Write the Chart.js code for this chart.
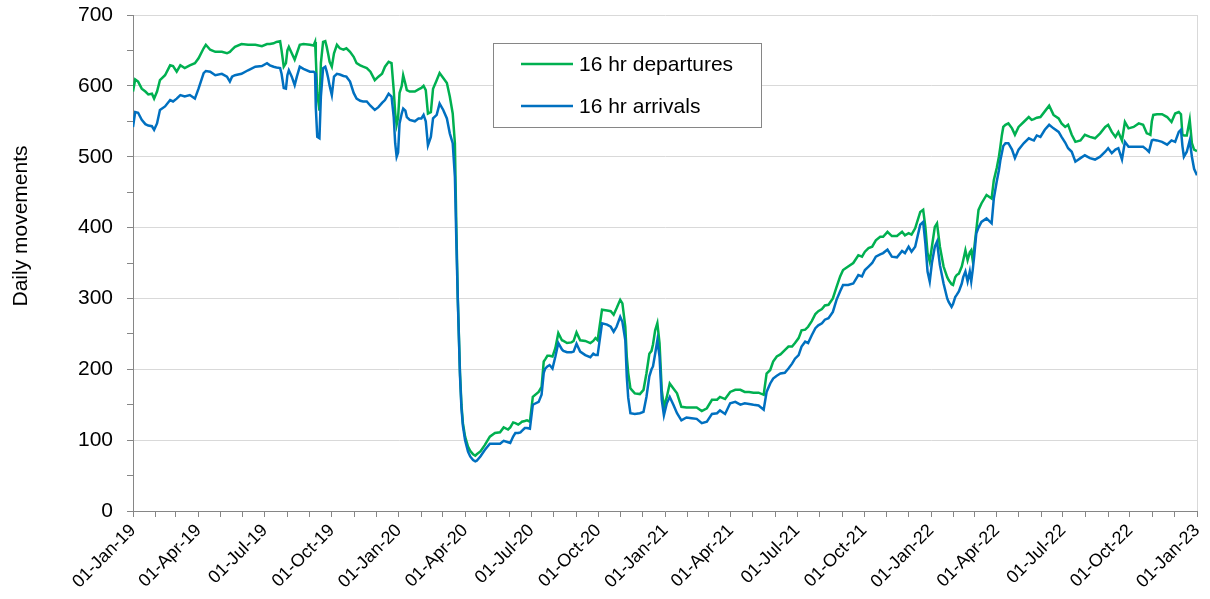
<!DOCTYPE html>
<html>
<head>
<meta charset="utf-8">
<script src="https://cdn.jsdelivr.net/npm/chart.js@4"></script>
<style>
  html, body { margin: 0; padding: 0; background: #fff; }
  #wrap { width: 1210px; height: 599px; }
</style>
</head>
<body>
<div id="wrap"><canvas id="chart" width="1210" height="599"></canvas></div>
<script>
// Mouvements quotidiens (moyenne 16 h), jours comptés depuis le 01-Jan-19
const startYear = 2019;

const days = [
  0, 3, 7, 12, 17, 21, 26, 29, 33, 37, 44, 51, 55, 60, 65, 71, 78, 85, 90, 97,
  100, 106, 113, 122, 129, 133, 136, 140, 149, 158, 168, 177, 184, 188, 193, 197, 202, 204, 207, 210,
  212, 214, 218, 222, 225, 229, 234, 243, 248, 250, 251, 253, 256, 258, 261, 264, 266, 268, 270, 273,
  276, 280, 284, 289, 293, 298, 303, 307, 312, 316, 321, 326, 332, 337, 342, 346, 351, 355, 358, 360,
  362, 364, 366, 369, 371, 374, 376, 380, 387, 392, 396, 399, 402, 405, 409, 412, 417, 421, 426, 431,
  435, 439, 442, 444, 446, 449, 451, 453, 456, 460, 463, 467, 470, 472, 477, 483, 490, 497, 504, 509,
  515, 518, 522, 525, 529, 532, 534, 538, 541, 545, 549, 557, 561, 564, 566, 569, 572, 576, 580, 584,
  589, 591, 596, 602, 605, 609, 614, 621, 628, 632, 635, 638, 644, 651, 656, 660, 664, 669, 672, 676,
  678, 680, 683, 689, 696, 701, 705, 709, 712, 714, 717, 720, 723, 726, 729, 733, 737, 742, 747, 753,
  760, 767, 774, 781, 788, 795, 802, 806, 813, 820, 827, 834, 840, 846, 852, 859, 866, 870, 875, 879,
  884, 889, 895, 900, 905, 909, 914, 918, 923, 927, 932, 937, 941, 946, 950, 955, 961, 966, 971, 975,
  982, 989, 996, 1001, 1005, 1010, 1015, 1020, 1026, 1030, 1036, 1042, 1049, 1056, 1060, 1065, 1069, 1074, 1081, 1085,
  1088, 1091, 1094, 1097, 1101, 1104, 1108, 1113, 1118, 1120, 1124, 1126, 1129, 1131, 1134, 1138, 1140, 1143, 1146, 1149,
  1151, 1153, 1155, 1158, 1161, 1165, 1172, 1179, 1182, 1186, 1189, 1191, 1193, 1195, 1198, 1202, 1207, 1211, 1216, 1223,
  1230, 1234, 1237, 1241, 1246, 1252, 1258, 1264, 1271, 1275, 1280, 1284, 1289, 1294, 1301, 1307, 1314, 1321, 1328, 1335,
  1339, 1344, 1349, 1353, 1358, 1362, 1367, 1374, 1381, 1387, 1392, 1395, 1397, 1399, 1401, 1406, 1413, 1420, 1426, 1431,
  1436, 1439, 1441, 1443, 1447, 1451, 1454, 1457, 1461
];

const departures = [
  592, 609, 606, 596, 592, 588, 589, 582, 592, 608, 615, 629, 628, 620, 629, 625, 629, 632, 639, 653,
  658, 651, 648, 648, 646, 648, 651, 655, 659, 658, 658, 656, 659, 659, 660, 662, 663, 650, 627, 632,
  650, 655, 646, 637, 646, 658, 659, 658, 657, 662, 640, 590, 565, 632, 662, 663, 655, 645, 634, 627,
  646, 658, 653, 651, 653, 648, 641, 632, 629, 627, 625, 620, 608, 613, 617, 627, 634, 632, 594, 562,
  545, 555, 590, 600, 615, 603, 594, 592, 592, 595, 597, 600, 594, 561, 563, 596, 608, 618, 611, 604,
  585, 561, 519, 400, 300, 195, 150, 124, 105, 91, 85, 80, 78, 80, 84, 93, 105, 110, 111, 118,
  115, 118, 125, 124, 122, 124, 126, 127, 128, 126, 161, 168, 175, 211, 214, 219, 219, 218, 230, 251,
  241, 240, 237, 238, 240, 252, 241, 240, 237, 240, 244, 241, 284, 283, 282, 277, 286, 298, 293, 260,
  218, 195, 173, 166, 165, 171, 194, 222, 226, 235, 255, 265, 237, 171, 147, 161, 180, 173, 166, 147,
  146, 146, 146, 141, 145, 157, 157, 161, 158, 168, 171, 171, 168, 168, 167, 167, 164, 194, 199, 211,
  218, 221, 227, 232, 232, 237, 244, 255, 256, 260, 268, 278, 282, 285, 290, 291, 300, 316, 331, 340,
  345, 350, 361, 359, 366, 371, 373, 382, 387, 387, 394, 388, 388, 394, 389, 392, 390, 399, 422, 425,
  401, 364, 352, 373, 401, 406, 373, 345, 330, 326, 320, 319, 330, 333, 335, 345, 354, 368, 354, 365,
  368, 354, 370, 397, 425, 434, 446, 441, 467, 484, 500, 514, 530, 542, 545, 547, 540, 531, 542, 549,
  556, 552, 553, 555, 556, 564, 572, 559, 554, 547, 542, 545, 531, 521, 523, 531, 528, 526, 533, 542,
  545, 535, 528, 535, 523, 549, 540, 542, 547, 545, 533, 532, 531, 550, 559, 560, 560, 556, 549, 561,
  563, 560, 531, 530, 530, 552, 519, 510, 508
];

const arrivals = [
  542, 563, 562, 552, 546, 544, 543, 538, 547, 566, 571, 580, 578, 582, 587, 585, 587, 582, 596, 618,
  621, 620, 615, 617, 613, 606, 613, 615, 617, 622, 627, 628, 632, 629, 627, 626, 625, 617, 597, 596,
  615, 622, 613, 601, 613, 627, 624, 620, 620, 618, 570, 528, 526, 585, 625, 627, 620, 611, 600, 587,
  613, 617, 616, 614, 613, 606, 590, 582, 579, 578, 578, 572, 566, 570, 576, 580, 589, 585, 556, 519,
  500, 506, 547, 561, 568, 565, 556, 552, 550, 554, 554, 559, 550, 516, 528, 554, 559, 575, 566, 554,
  533, 519, 472, 380, 298, 191, 145, 120, 100, 84, 77, 72, 70, 71, 77, 86, 95, 95, 95, 99,
  97, 96, 105, 110, 110, 111, 113, 117, 117, 116, 150, 154, 164, 195, 201, 204, 206, 201, 218, 237,
  228, 226, 224, 224, 225, 236, 225, 220, 217, 222, 220, 220, 265, 263, 260, 253, 260, 274, 267, 241,
  190, 160, 138, 137, 138, 140, 161, 190, 200, 204, 222, 241, 218, 157, 135, 152, 161, 150, 138, 128,
  132, 131, 130, 124, 126, 137, 138, 142, 137, 152, 154, 150, 152, 151, 150, 149, 143, 168, 180, 187,
  191, 194, 195, 201, 208, 215, 220, 232, 239, 237, 248, 258, 262, 265, 270, 272, 281, 298, 310, 319,
  319, 321, 333, 331, 340, 345, 350, 359, 362, 364, 369, 359, 358, 367, 364, 373, 366, 373, 404, 408,
  378, 338, 324, 350, 373, 380, 347, 321, 300, 295, 288, 292, 302, 305, 310, 321, 330, 338, 324, 338,
  324, 340, 359, 392, 400, 408, 413, 406, 441, 465, 481, 495, 505, 515, 519, 519, 510, 498, 510, 519,
  526, 524, 523, 530, 528, 538, 545, 540, 535, 528, 520, 512, 507, 493, 498, 502, 498, 496, 500, 507,
  512, 505, 510, 512, 496, 521, 514, 514, 514, 514, 510, 507, 515, 523, 524, 523, 521, 517, 523, 521,
  535, 538, 515, 500, 507, 523, 500, 483, 474
];

const tickLabels = [
  "01-Jan-19", "01-Apr-19", "01-Jul-19", "01-Oct-19",
  "01-Jan-20", "01-Apr-20", "01-Jul-20", "01-Oct-20",
  "01-Jan-21", "01-Apr-21", "01-Jul-21", "01-Oct-21",
  "01-Jan-22", "01-Apr-22", "01-Jul-22", "01-Oct-22",
  "01-Jan-23"
];

const legendLabels = ["16 hr departures", "16 hr arrivals"];
const yTitle = "Daily movements";

const vert = "#00b050";
const bleu = "#0070c0";
const gris = "#868686";
const grille = "#d9d9d9";

// début de chaque mois, en jours depuis le 01-Jan-19
const t0 = Date.UTC(startYear, 0, 1);
const debutsMois = [];
for (let m = 0; m <= 48; m++) {
  debutsMois.push(Math.round((Date.UTC(startYear, m, 1) - t0) / 86400000));
}

const pointsDep = days.map((d, i) => ({ x: d, y: departures[i] }));
const pointsArr = days.map((d, i) => ({ x: d, y: arrivals[i] }));

// titre de l'axe Y, bordure droite et légende encadrée
const decor = {
  id: "decor",
  beforeDatasetsDraw(chart) {
    const { ctx, chartArea } = chart;
    ctx.save();
    ctx.strokeStyle = grille;
    ctx.lineWidth = 1;
    ctx.beginPath();
    ctx.moveTo(Math.round(chartArea.right) + 0.5, chartArea.top);
    ctx.lineTo(Math.round(chartArea.right) + 0.5, chartArea.bottom);
    ctx.stroke();
    ctx.restore();
  },
  afterDraw(chart) {
    const { ctx } = chart;
    ctx.save();
    ctx.font = "21px 'Liberation Sans', Arial, sans-serif";
    ctx.fillStyle = "#000";
    ctx.textAlign = "center";
    ctx.textBaseline = "middle";
    ctx.translate(21, 226);
    ctx.rotate(-Math.PI / 2);
    ctx.fillText(yTitle, 0, 0);
    ctx.restore();

    // légende
    ctx.save();
    ctx.fillStyle = "#fff";
    ctx.fillRect(493, 43, 268, 84);
    ctx.strokeStyle = gris;
    ctx.lineWidth = 1;
    ctx.strokeRect(493.5, 43.5, 268, 84);
    ctx.font = "21px 'Liberation Sans', Arial, sans-serif";
    ctx.textBaseline = "middle";
    ctx.fillStyle = "#000";
    const couleurs = [vert, bleu];
    const ys = [64, 106];
    legendLabels.forEach((lab, i) => {
      ctx.strokeStyle = couleurs[i];
      ctx.lineWidth = 2.5;
      ctx.beginPath();
      ctx.moveTo(521, ys[i]);
      ctx.lineTo(573, ys[i]);
      ctx.stroke();
      ctx.fillText(lab, 579, ys[i] + 1);
    });
    ctx.restore();
  }
};

new Chart(document.getElementById("chart"), {
  type: "line",
  data: {
    datasets: [
      {
        label: legendLabels[0],
        data: pointsDep,
        borderColor: vert,
        borderWidth: 2.5,
        pointRadius: 0,
        tension: 0,
        order: 1
      },
      {
        label: legendLabels[1],
        data: pointsArr,
        borderColor: bleu,
        borderWidth: 2.5,
        pointRadius: 0,
        tension: 0,
        order: 0
      }
    ]
  },
  options: {
    responsive: false,
    animation: false,
    events: [],
    layout: { padding: { top: 15, right: 13, left: 0, bottom: 0 } },
    plugins: {
      legend: { display: false },
      tooltip: { enabled: false }
    },
    scales: {
      x: {
        type: "linear",
        min: 0,
        max: debutsMois[48],
        afterBuildTicks(scale) {
          scale.ticks = debutsMois.map(v => ({ value: v }));
        },
        afterFit(scale) {
          scale.height = 88;
          scale.paddingLeft = 0;
          scale.paddingRight = 0;
        },
        border: { color: gris, width: 1 },
        grid: { drawOnChartArea: false, drawTicks: true, tickLength: 6, tickColor: gris },
        ticks: {
          autoSkip: false,
          minRotation: 45,
          maxRotation: 45,
          padding: 3,
          color: "#000",
          font: { family: "'Liberation Sans', Arial, sans-serif", size: 18 },
          callback(value, index) {
            return index % 3 === 0 ? tickLabels[index / 3] : "";
          }
        }
      },
      y: {
        min: 0,
        max: 700,
        afterFit(scale) {
          scale.width = 133;
          scale.paddingTop = 0;
          scale.paddingBottom = 0;
        },
        border: { color: gris, width: 1 },
        grid: {
          color: ctx => (ctx.tick && ctx.tick.value % 100 === 0 ? grille : "rgba(0,0,0,0)"),
          lineWidth: 1,
          tickLength: 6,
          tickColor: gris
        },
        ticks: {
          stepSize: 50,
          padding: 14,
          color: "#000",
          font: { family: "'Liberation Sans', Arial, sans-serif", size: 21 },
          callback: v => (v % 100 === 0 ? v : "")
        }
      }
    }
  },
  plugins: [decor]
});
</script>
</body>
</html>
